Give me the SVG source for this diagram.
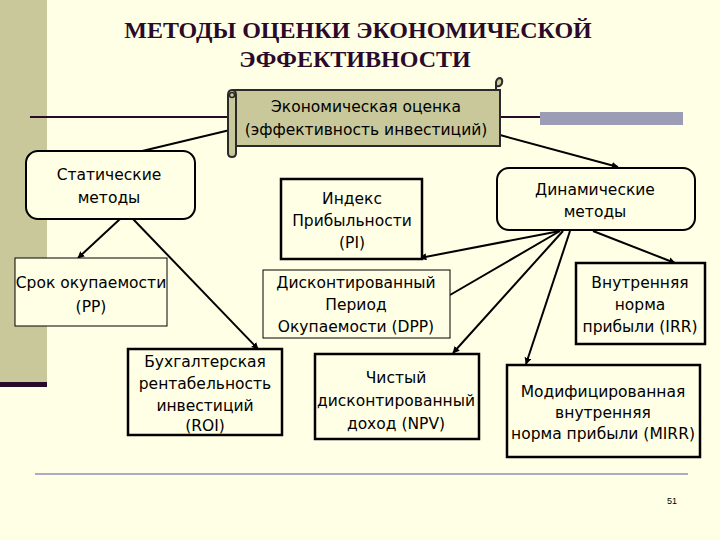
<svg xmlns="http://www.w3.org/2000/svg" width="720" height="540" viewBox="0 0 720 540">
<defs>
<marker id="ah" viewBox="0 0 10 10" refX="9" refY="5" markerWidth="7" markerHeight="7" orient="auto-start-reverse" markerUnits="userSpaceOnUse">
<path d="M0,0 L10,5 L0,10 z" fill="#000"/>
</marker>
<style>
.t{font-family:"DejaVu Sans",Verdana,sans-serif;font-size:15.5px;fill:#000;text-anchor:middle}
.title{font-family:"Liberation Serif","Times New Roman",serif;font-size:24px;font-weight:bold;fill:#2a0a2a;text-anchor:middle}
.thick{fill:#ffffe5;stroke:#000;stroke-width:2.5}
.thin{fill:#ffffe5;stroke:#000;stroke-width:1}
.round{fill:#ffffe5;stroke:#000;stroke-width:2}
.con{stroke:#000;stroke-width:2;fill:none}
</style>
</defs>
<rect width="720" height="540" fill="#ffffe5"/>
<rect x="0" y="0" width="47" height="382" fill="#c8c89a"/>
<rect x="0" y="382" width="47" height="5" fill="#2a0a2a"/>
<line x1="30" y1="117" x2="540" y2="117" stroke="#2a0a2a" stroke-width="2"/>
<rect x="540" y="112" width="143" height="13" fill="#9c9cb4"/>
<line x1="35" y1="474" x2="688" y2="474" stroke="#5a5aa8" stroke-width="1.2"/>
<text x="672" y="504" font-family="Liberation Sans, Arial, sans-serif" font-size="9" fill="#000" text-anchor="middle">51</text>
<g id="title">
<text class="title" x="358" y="38">МЕТОДЫ ОЦЕНКИ ЭКОНОМИЧЕСКОЙ</text>
<text class="title" x="355" y="67">ЭФФЕКТИВНОСТИ</text>
</g>
<g id="connectors">
<line class="con" x1="230" y1="130" x2="138" y2="152"/>
<line class="con" x1="500" y1="135" x2="618" y2="167" marker-end="url(#ah)"/>
<line class="con" x1="120" y1="219" x2="78" y2="258" marker-end="url(#ah)"/>
<line class="con" x1="133" y1="219" x2="258" y2="349" marker-end="url(#ah)"/>
<line class="con" x1="560" y1="231" x2="420" y2="258" marker-end="url(#ah)"/>
<line class="con" x1="560" y1="231" x2="450" y2="295"/>
<line class="con" x1="563" y1="231" x2="453" y2="353" marker-end="url(#ah)"/>
<line class="con" x1="570" y1="231" x2="526" y2="364" marker-end="url(#ah)"/>
<line class="con" x1="593" y1="231" x2="675" y2="263" marker-end="url(#ah)"/>
</g>
<g id="scroll">
<rect x="233" y="90" width="267" height="56" fill="#c8c89a" stroke="#2a2a2a" stroke-width="2"/>
<path d="M496,90 L496,82 Q497,78 500,78 Q503,79 502,83 Q501,87 497,86" fill="#c8c89a" stroke="#2a2a2a" stroke-width="2"/>
<path d="M228,95 Q228,90 232,90 Q236,90 236,95 L236,153 Q236,157 232,157 Q228,157 228,153 Z" fill="#c8c89a" stroke="#2a2a2a" stroke-width="2"/>
<circle cx="232" cy="95" r="2.5" fill="none" stroke="#2a2a2a" stroke-width="1.5"/>
<text class="t" x="366" y="112">Экономическая оценка</text>
<text class="t" x="366" y="135">(эффективность инвестиций)</text>
</g>
<g id="static">
<rect class="round" x="26" y="151" width="169" height="68" rx="12"/>
<text class="t" x="109" y="180">Статические</text>
<text class="t" x="109" y="203">методы</text>
</g>
<g id="dynamic">
<rect class="round" x="497" y="168" width="198" height="62" rx="12"/>
<text class="t" x="595" y="195">Динамические</text>
<text class="t" x="595" y="217">методы</text>
</g>
<g id="pp">
<rect class="thin" x="15" y="258" width="152" height="68"/>
<text class="t" x="91" y="288">Срок окупаемости</text>
<text class="t" x="91" y="312">(PP)</text>
</g>
<g id="roi">
<rect class="thick" x="128" y="349" width="154" height="86"/>
<text class="t" x="205" y="367">Бухгалтерская</text>
<text class="t" x="205" y="389">рентабельность</text>
<text class="t" x="205" y="411">инвестиций</text>
<text class="t" x="205" y="431">(ROI)</text>
</g>
<g id="pi">
<rect class="thick" x="281" y="179" width="141" height="80"/>
<text class="t" x="352" y="204">Индекс</text>
<text class="t" x="352" y="226">Прибыльности</text>
<text class="t" x="352" y="248">(PI)</text>
</g>
<g id="dpp">
<rect class="thin" x="263" y="270" width="187" height="68"/>
<text class="t" x="356" y="288">Дисконтированный</text>
<text class="t" x="356" y="310">Период</text>
<text class="t" x="356" y="332">Окупаемости (DPP)</text>
</g>
<g id="npv">
<rect class="thick" x="315" y="354" width="164" height="85"/>
<text class="t" x="396" y="383">Чистый</text>
<text class="t" x="396" y="406">дисконтированный</text>
<text class="t" x="396" y="429">доход (NPV)</text>
</g>
<g id="irr">
<rect class="thick" x="576" y="263" width="129" height="81"/>
<text class="t" x="640" y="288">Внутренняя</text>
<text class="t" x="640" y="310">норма</text>
<text class="t" x="640" y="332">прибыли (IRR)</text>
</g>
<g id="mirr">
<rect class="thick" x="507" y="365" width="193" height="92"/>
<text class="t" x="603" y="397">Модифицированная</text>
<text class="t" x="603" y="418">внутренняя</text>
<text class="t" x="603" y="439">норма прибыли (MIRR)</text>
</g>
</svg>
